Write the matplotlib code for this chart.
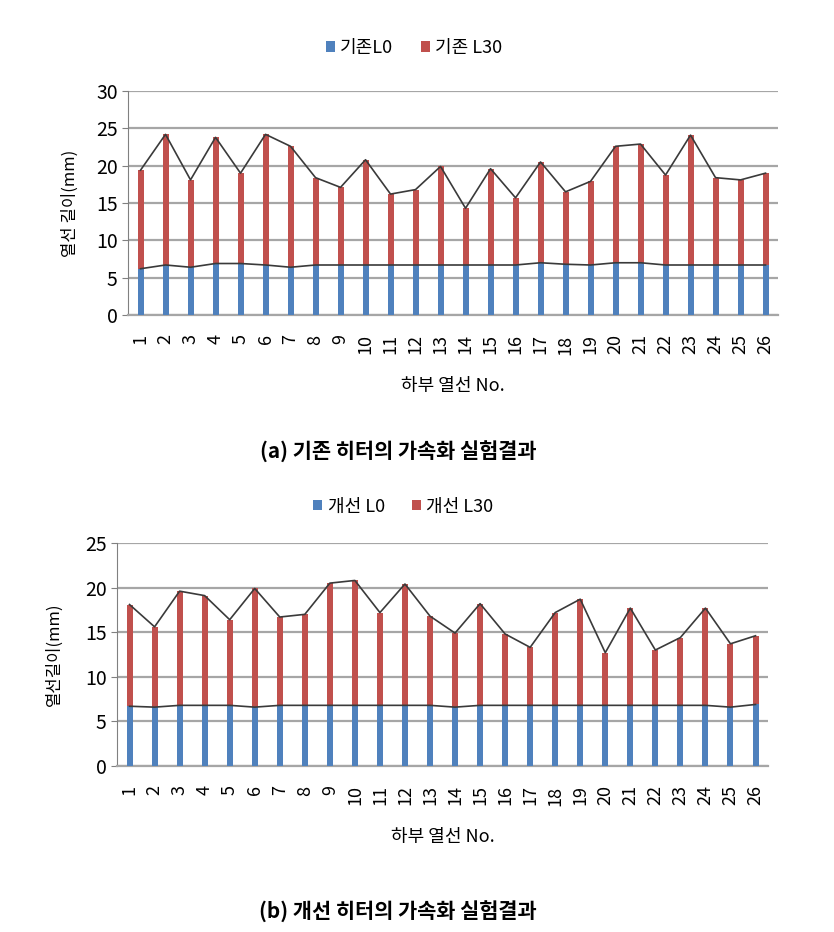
import matplotlib
matplotlib.use("Agg")
import matplotlib.pyplot as plt
import numpy as np

plt.rcParams['font.family'] = ['Noto Sans CJK KR', 'DejaVu Sans']

# heater wire numbers
wires = list(range(1, 27))

# (a) existing heater
old_L0 = [6.2, 6.7, 6.4, 6.9, 6.9, 6.7, 6.4, 6.7, 6.7, 6.7, 6.7, 6.7, 6.7,
          6.7, 6.7, 6.7, 7.0, 6.8, 6.7, 7.0, 7.0, 6.7, 6.7, 6.7, 6.7, 6.7]
old_L30 = [19.4, 24.2, 18.1, 23.8, 19.0, 24.2, 22.6, 18.4, 17.1, 20.8, 16.2, 16.8, 19.9,
           14.3, 19.6, 15.7, 20.5, 16.5, 17.9, 22.6, 22.9, 18.75, 24.1, 18.4, 18.1, 19.0]

# (b) improved heater
new_L0 = [6.7, 6.6, 6.8, 6.8, 6.8, 6.6, 6.8, 6.8, 6.8, 6.8, 6.8, 6.8, 6.8,
          6.6, 6.8, 6.8, 6.8, 6.8, 6.8, 6.8, 6.8, 6.8, 6.8, 6.8, 6.6, 6.9]
new_L30 = [18.1, 15.6, 19.6, 19.1, 16.4, 19.9, 16.7, 17.0, 20.5, 20.8, 17.2, 20.4, 16.8,
           14.9, 18.2, 14.8, 13.3, 17.2, 18.7, 12.7, 17.7, 13.0, 14.4, 17.7, 13.7, 14.6]

blue = '#4F81BD'
red = '#C0504D'
grid_c = '#A6A6A6'

fig = plt.figure(figsize=(8.34, 9.32), dpi=100)


def draw(ax, l0, l30, ymax, names, ylab, ypad, leg_y):
    x = np.array(wires)
    ax.bar(x, l30, width=0.24, color=red, zorder=2, label=names[1])
    ax.bar(x, l0, width=0.24, color=blue, zorder=3, label=names[0])
    ax.plot(x, l30, color='#3A3A3A', lw=1.2, zorder=4)
    ax.plot(x, l0, color='#3A3A3A', lw=1.2, zorder=4)
    ax.set_xlim(0.5, 26.5)
    ax.set_ylim(0, ymax)
    ax.set_yticks(np.arange(0, ymax + 1, 5))
    ax.set_xticks(x)
    ax.set_xticklabels([str(w) for w in wires], rotation=90, fontsize=13)
    ax.tick_params(axis='y', labelsize=14, length=4, color='#808080')
    ax.tick_params(axis='x', length=0, pad=14)
    ax.yaxis.grid(True, color=grid_c, lw=1.6, zorder=0)
    ax.set_axisbelow(True)
    for s in ['top', 'right']:
        ax.spines[s].set_visible(False)
    ax.spines['left'].set_color('#808080')
    ax.spines['bottom'].set_color(grid_c)
    ax.spines['bottom'].set_linewidth(1.6)
    ax.set_xlabel('하부 열선 No.', fontsize=13, labelpad=16)
    ax.set_ylabel(ylab, fontsize=12, labelpad=ypad)
    h, l = ax.get_legend_handles_labels()
    ax.legend(h[::-1], l[::-1], loc='lower center', bbox_to_anchor=(0.44, leg_y), ncol=2,
              frameon=False, fontsize=13, handlelength=0.5, handleheight=0.5,
              handletextpad=0.3, columnspacing=1.5)


ax1 = fig.add_axes([0.1535, 0.662, 0.7794, 0.2403])
draw(ax1, old_L0, old_L30, 30, ['기존L0', '기존 L30'], '열선 길이(mm)', 12, 1.08)
ax2 = fig.add_axes([0.1403, 0.1781, 0.7806, 0.2393])
draw(ax2, new_L0, new_L30, 25, ['개선 L0', '개선 L30'], '열선길이(mm)', 16, 1.05)

fig.text(0.477, 1 - 452 / 932, '(a) 기존 히터의 가속화 실험결과', ha='center', va='center',
         fontsize=15, fontweight='bold')
fig.text(0.477, 1 - 912 / 932, '(b) 개선 히터의 가속화 실험결과', ha='center', va='center',
         fontsize=15, fontweight='bold')

fig.savefig('out.png', dpi=100)
